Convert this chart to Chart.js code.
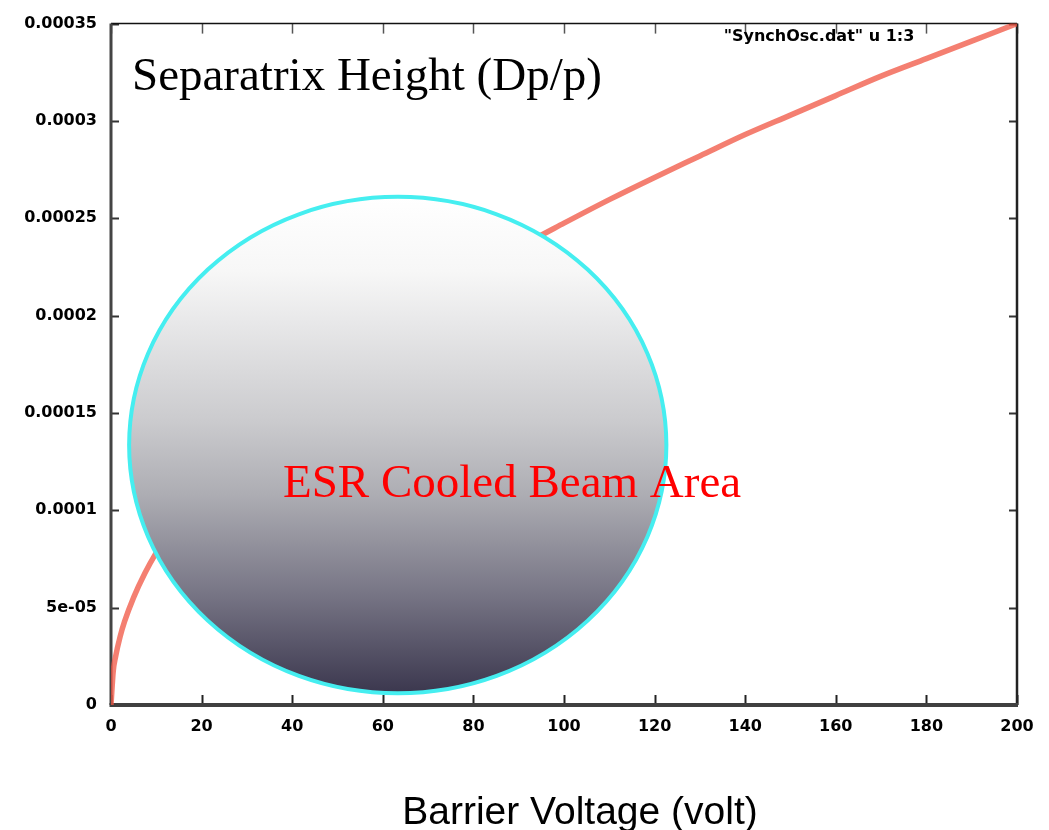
<!DOCTYPE html>
<html>
<head>
<meta charset="utf-8">
<title>Separatrix Height vs Barrier Voltage</title>
<script src="https://cdn.jsdelivr.net/npm/chart.js@4.4.1/dist/chart.umd.min.js"></script>
<style>
  html, body { margin: 0; padding: 0; background: #ffffff; }
  #wrap { position: relative; width: 1049px; height: 830px; }
</style>
</head>
<body>
<div id="wrap"><canvas id="chart" width="1049" height="830"></canvas></div>
<script>
// Barrier voltage (volt) and separatrix height Dp/p from SynchOsc.dat (columns 1:3)
const voltage = [0, 0.5, 1, 2, 3, 5, 7.5, 10, 15, 20, 30, 40, 50, 60, 70, 80, 90,
                 100, 110, 120, 130, 140, 150, 160, 170, 180, 190, 200];
const separatrixHeight = [0, 1.75e-5, 2.47e-5, 3.5e-5, 4.29e-5, 5.53e-5, 6.78e-5, 7.83e-5,
                          9.59e-5, 1.107e-4, 1.356e-4, 1.565e-4, 1.75e-4, 1.917e-4, 2.07e-4,
                          2.21e-4, 2.35e-4, 2.475e-4, 2.596e-4, 2.71e-4, 2.82e-4, 2.93e-4,
                          3.03e-4, 3.13e-4, 3.23e-4, 3.32e-4, 3.41e-4, 3.5e-4];

// Axis ticks
const xTickValues = [0, 20, 40, 60, 80, 100, 120, 140, 160, 180, 200];
const yTickValues = [0, 5e-5, 1e-4, 1.5e-4, 2e-4, 2.5e-4, 3e-4, 3.5e-4];
const yTickLabels = ['0', '5e-05', '0.0001', '0.00015', '0.0002', '0.00025', '0.0003', '0.00035'];

// Highlighted region: ESR cooled beam area (centre and half-axes in data units)
const beamCentre = [63.3, 1.335e-4];
const beamHalfAxes = [59.3, 1.275e-4];

const seriesLabel = '"SynchOsc.dat" u 1:3';
const yTitle = 'Separatrix Height (Dp/p)';
const xTitle = 'Barrier Voltage (volt)';
const beamLabel = 'ESR Cooled Beam Area';

const points = voltage.map((v, i) => ({ x: v, y: separatrixHeight[i] }));

// Gnuplot-like frame with inward tick marks
const framePlugin = {
  id: 'frame',
  beforeDatasetsDraw(chart) {
    const { ctx, chartArea: a, scales: { x, y } } = chart;
    ctx.save();
    ctx.lineCap = 'butt';
    xTickValues.forEach(v => {
      const px = Math.round(x.getPixelForValue(v)) + 0.5;
      ctx.strokeStyle = '#222';
      ctx.lineWidth = 2;
      ctx.beginPath(); ctx.moveTo(px, a.bottom); ctx.lineTo(px, a.bottom - 10); ctx.stroke();
      ctx.strokeStyle = '#555';
      ctx.lineWidth = 1.5;
      ctx.beginPath(); ctx.moveTo(px, a.top); ctx.lineTo(px, a.top + 10); ctx.stroke();
    });
    yTickValues.forEach(v => {
      const py = Math.round(y.getPixelForValue(v)) + 0.5;
      ctx.strokeStyle = '#333';
      ctx.lineWidth = 2;
      ctx.beginPath(); ctx.moveTo(a.left, py); ctx.lineTo(a.left + 8, py); ctx.stroke();
      ctx.beginPath(); ctx.moveTo(a.right, py); ctx.lineTo(a.right - 8, py); ctx.stroke();
    });
    // border lines
    ctx.strokeStyle = '#111';
    ctx.lineWidth = 1.5;
    ctx.beginPath(); ctx.moveTo(a.left, a.top); ctx.lineTo(a.right, a.top); ctx.stroke();
    ctx.strokeStyle = '#222';
    ctx.lineWidth = 2.5;
    ctx.beginPath(); ctx.moveTo(a.right, a.top); ctx.lineTo(a.right, a.bottom); ctx.stroke();
    ctx.strokeStyle = '#444';
    ctx.lineWidth = 3;
    ctx.beginPath(); ctx.moveTo(a.left, a.top); ctx.lineTo(a.left, a.bottom); ctx.stroke();
    ctx.lineWidth = 4;
    ctx.strokeStyle = '#404040';
    ctx.beginPath(); ctx.moveTo(a.left - 1.5, a.bottom); ctx.lineTo(a.right + 1, a.bottom); ctx.stroke();
    ctx.restore();
  }
};

// Beam-area ellipse and text annotations
const overlayPlugin = {
  id: 'overlay',
  afterDatasetsDraw(chart) {
    const { ctx, scales: { x, y } } = chart;
    const cx = x.getPixelForValue(beamCentre[0]);
    const cy = y.getPixelForValue(beamCentre[1]);
    const rx = x.getPixelForValue(beamCentre[0] + beamHalfAxes[0]) - cx;
    const ry = cy - y.getPixelForValue(beamCentre[1] + beamHalfAxes[1]);
    ctx.save();
    const g = ctx.createLinearGradient(0, cy - ry, 0, cy + ry);
    g.addColorStop(0, '#ffffff');
    g.addColorStop(0.15, '#f7f7f7');
    g.addColorStop(0.45, '#cbcbce');
    g.addColorStop(0.6, '#adadb3');
    g.addColorStop(0.8, '#777585');
    g.addColorStop(1, '#3b374e');
    ctx.beginPath();
    ctx.ellipse(cx, cy, rx, ry, 0, 0, Math.PI * 2);
    ctx.fillStyle = g;
    ctx.fill();
    ctx.lineWidth = 4;
    ctx.strokeStyle = '#45eef0';
    ctx.stroke();

    ctx.fillStyle = '#ff0000';
    ctx.font = '47px "Liberation Serif", "Times New Roman", serif';
    ctx.textAlign = 'left';
    ctx.textBaseline = 'alphabetic';
    ctx.fillText(beamLabel, 283, 497);

    ctx.fillStyle = '#000';
    ctx.font = '47px "Liberation Serif", "Times New Roman", serif';
    ctx.fillText(yTitle, 132, 90);

    ctx.font = 'bold 16px "DejaVu Sans", Verdana, sans-serif';
    ctx.textAlign = 'center';
    ctx.fillText(seriesLabel, 819, 41);

    ctx.font = '39px "Liberation Sans", Arial, sans-serif';
    ctx.fillText(xTitle, 580, 824);
    ctx.restore();
  }
};

const tickFont = { family: '"DejaVu Sans", Verdana, sans-serif', size: 16, weight: 'bold' };

new Chart(document.getElementById('chart'), {
  type: 'line',
  data: {
    datasets: [{
      label: seriesLabel,
      data: points,
      borderColor: 'rgba(240, 84, 66, 0.75)',
      borderWidth: 5.5,
      pointRadius: 0,
      cubicInterpolationMode: 'monotone',
      fill: false
    }]
  },
  options: {
    responsive: false,
    animation: false,
    layout: { padding: { top: 19, right: 32, left: 0, bottom: 0 } },
    plugins: { legend: { display: false }, tooltip: { enabled: false } },
    scales: {
      x: {
        type: 'linear', min: 0, max: 200,
        grid: { display: false, drawTicks: false },
        border: { display: false },
        afterBuildTicks: s => { s.ticks = xTickValues.map(v => ({ value: v })); },
        afterFit: s => { s.height = 125; },
        ticks: { color: '#000', font: tickFont, padding: 12, maxRotation: 0, autoSkip: false }
      },
      y: {
        type: 'linear', min: 0, max: 3.5e-4,
        grid: { display: false, drawTicks: false },
        border: { display: false },
        afterBuildTicks: s => { s.ticks = yTickValues.map(v => ({ value: v })); },
        afterFit: s => { s.width = 111; },
        ticks: {
          color: '#000', font: tickFont, padding: 14, autoSkip: false,
          callback: (v, i) => yTickLabels[i]
        }
      }
    }
  },
  plugins: [framePlugin, overlayPlugin]
});
</script>
</body>
</html>
